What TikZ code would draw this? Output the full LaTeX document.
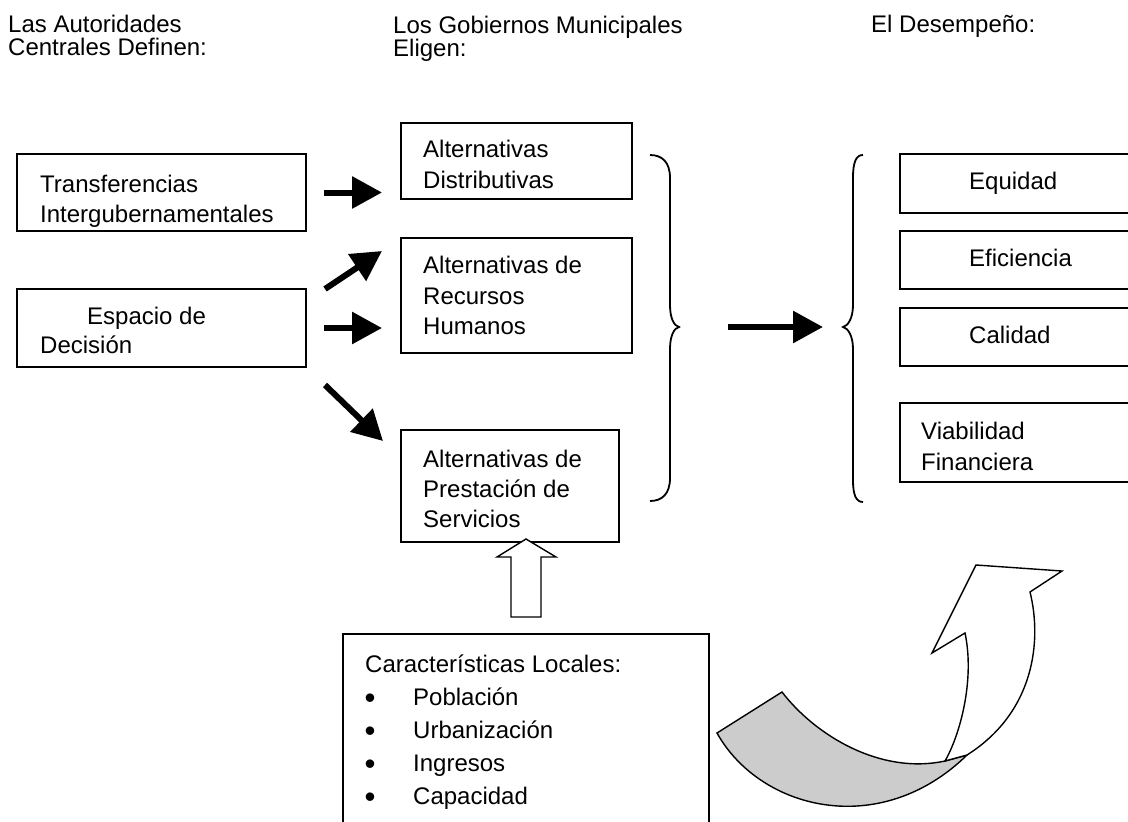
\documentclass[tikz,border=0pt]{standalone}
\usepackage{fontspec}
\usepackage{graphicx}
\setmainfont{Liberation Sans}
\usetikzlibrary{arrows.meta,positioning,calc}
\tikzset{box/.style={draw,rectangle,line width=1.6pt,inner sep=0,outer sep=0,anchor=north west},
    txt/.style={anchor=north west,inner sep=0,align=left,font=\fontsize{24}{30}\selectfont},
    bigarrow/.style={line width=6pt,-{Triangle[length=30pt,width=31pt]}},
    accolade/.style={line width=1.8pt},
    hollow/.style={draw,line width=1.4pt,fill=white,line join=miter},
    twist/.style={draw,line width=1.4pt,line join=miter}}
\newcommand\bul[1]{\hspace*{-0.5pt}\makebox[48.5pt][l]{\raisebox{-3pt}{\scalebox{1.3}{\textbullet}}}#1}

\begin{document}
\begin{tikzpicture}[x=1pt,y=-1pt]

\useasboundingbox (0,0) rectangle (1128,822);
\clip (0,0) rectangle (1128,822);

% headings
\node (hdcentral) [txt,font=\fontsize{24}{23}\selectfont] at (8,15) {Las Autoridades\\Centrales Definen:};
\node (hdlocal) [txt,font=\fontsize{24}{23}\selectfont] at (393,16) {Los Gobiernos Municipales\\Eligen:};
\node (hdresult) [txt] at (871,15) {El Desempeño:};

% what the centre defines
\node (trans) [box,minimum width=289pt,minimum height=77pt] at (17,154) {};
\node (transtxt) [txt] at (40,175) {Transferencias\\Intergubernamentales};
\node (espacio) [box,minimum width=289pt,minimum height=78pt] at (17,289) {};
\node (espaciotxt) [txt,font=\fontsize{24}{29}\selectfont] at (40,307) {\hspace*{47pt}Espacio de\\Decisión};

% what the municipalities choose
\node (distrib) [box,minimum width=231pt,minimum height=76pt] at (401,123) {};
\node (distribtxt) [txt,font=\fontsize{24}{31}\selectfont] at (423,140) {Alternativas\\Distributivas};
\node (recursos) [box,minimum width=231pt,minimum height=115pt] at (401,238) {};
\node (recursostxt) [txt,font=\fontsize{24}{30.5}\selectfont] at (423,256) {Alternativas de\\Recursos\\Humanos};
\node (prestacion) [box,minimum width=218pt,minimum height=112pt] at (401,430) {};
\node (prestaciontxt) [txt] at (423,450) {Alternativas de\\Prestación de\\Servicios};

% performance
\node (equidad) [box,minimum width=260pt,minimum height=59pt] at (900,154) {};
\node (equidadtxt) [txt] at (969,172) {Equidad};
\node (eficiencia) [box,minimum width=260pt,minimum height=58pt] at (900,231) {};
\node (eficienciatxt) [txt] at (969,249) {Eficiencia};
\node (calidad) [box,minimum width=260pt,minimum height=58pt] at (900,308) {};
\node (calidadtxt) [txt] at (969,326) {Calidad};
\node (viabilidad) [box,minimum width=260pt,minimum height=79pt] at (900,403) {};
\node (viabilidadtxt) [txt,font=\fontsize{24}{31}\selectfont] at (921,422) {Viabilidad\\Financiera};

% local characteristics
\node (locales) [box,minimum width=366pt,minimum height=220pt] at (343,634) {};
\node (localestxt) [txt,font=\fontsize{24}{33}\selectfont] at (365,655)
    {Características Locales:\\\bul{Población}\\\bul{Urbanización}\\\bul{Ingresos}\\\bul{Capacidad}};

% braces
\coordinate (rtip) at (679,327);
\coordinate (ltip) at (843,327);
\draw [accolade] (650,155) .. controls (662,155) and (670,162) .. (670,178) -- (670,305)
    .. controls (670,318) and (674,326) .. (rtip) .. controls (674,328) and (670,336) .. (670,349)
    -- (670,478) .. controls (670,494) and (662,501) .. (650,501);
\draw [accolade] (863,155) .. controls (856,155) and (853,162) .. (853,178) -- (853,305)
    .. controls (853,318) and (848,326) .. (ltip) .. controls (848,328) and (853,336) .. (853,349)
    -- (853,480) .. controls (853,495) and (856,502) .. (863,502);

% arrows
\draw [bigarrow,shorten <=18pt,shorten >=19pt] (trans.east) -- (trans.east -| distrib.west);
\draw [bigarrow] ($(espacio.north east)+(19,0)$) -- ($(recursos.north west)+(-19,13)$);
\draw [bigarrow,shorten <=18pt,shorten >=19pt] (espacio.east) -- (espacio.east -| recursos.west);
\draw [bigarrow] ($(espacio.south east)+(19,18)$) -- ($(prestacion.north west)+(-18,11)$);
\draw [bigarrow,shorten <=49pt,shorten >=20pt] (rtip) -- (ltip);

% hollow arrow up from the local characteristics
\draw [hollow] ($(locales.north)+(-15,-17)$) -- ++(0,-60) -- ++(-14,0) -- ++(29,-18)
    -- ++(30,18) -- ++(-15,0) -- ++(0,60) -- cycle;

% curved arrow
\draw [twist,fill=gray!40] (717,733) -- (782,692) .. controls (815,735) and (880,775) .. (945,761)
    -- (967,755) .. controls (880,840) and (760,810) .. cycle;
\draw [twist,fill=white] (945,761) .. controls (960,735) and (975,680) .. (965,633) -- (932,653)
    -- (976,565) -- (1062,571) -- (1030,592) .. controls (1042,640) and (1035,712) .. (967,755) -- cycle;

\end{tikzpicture}
\end{document}
